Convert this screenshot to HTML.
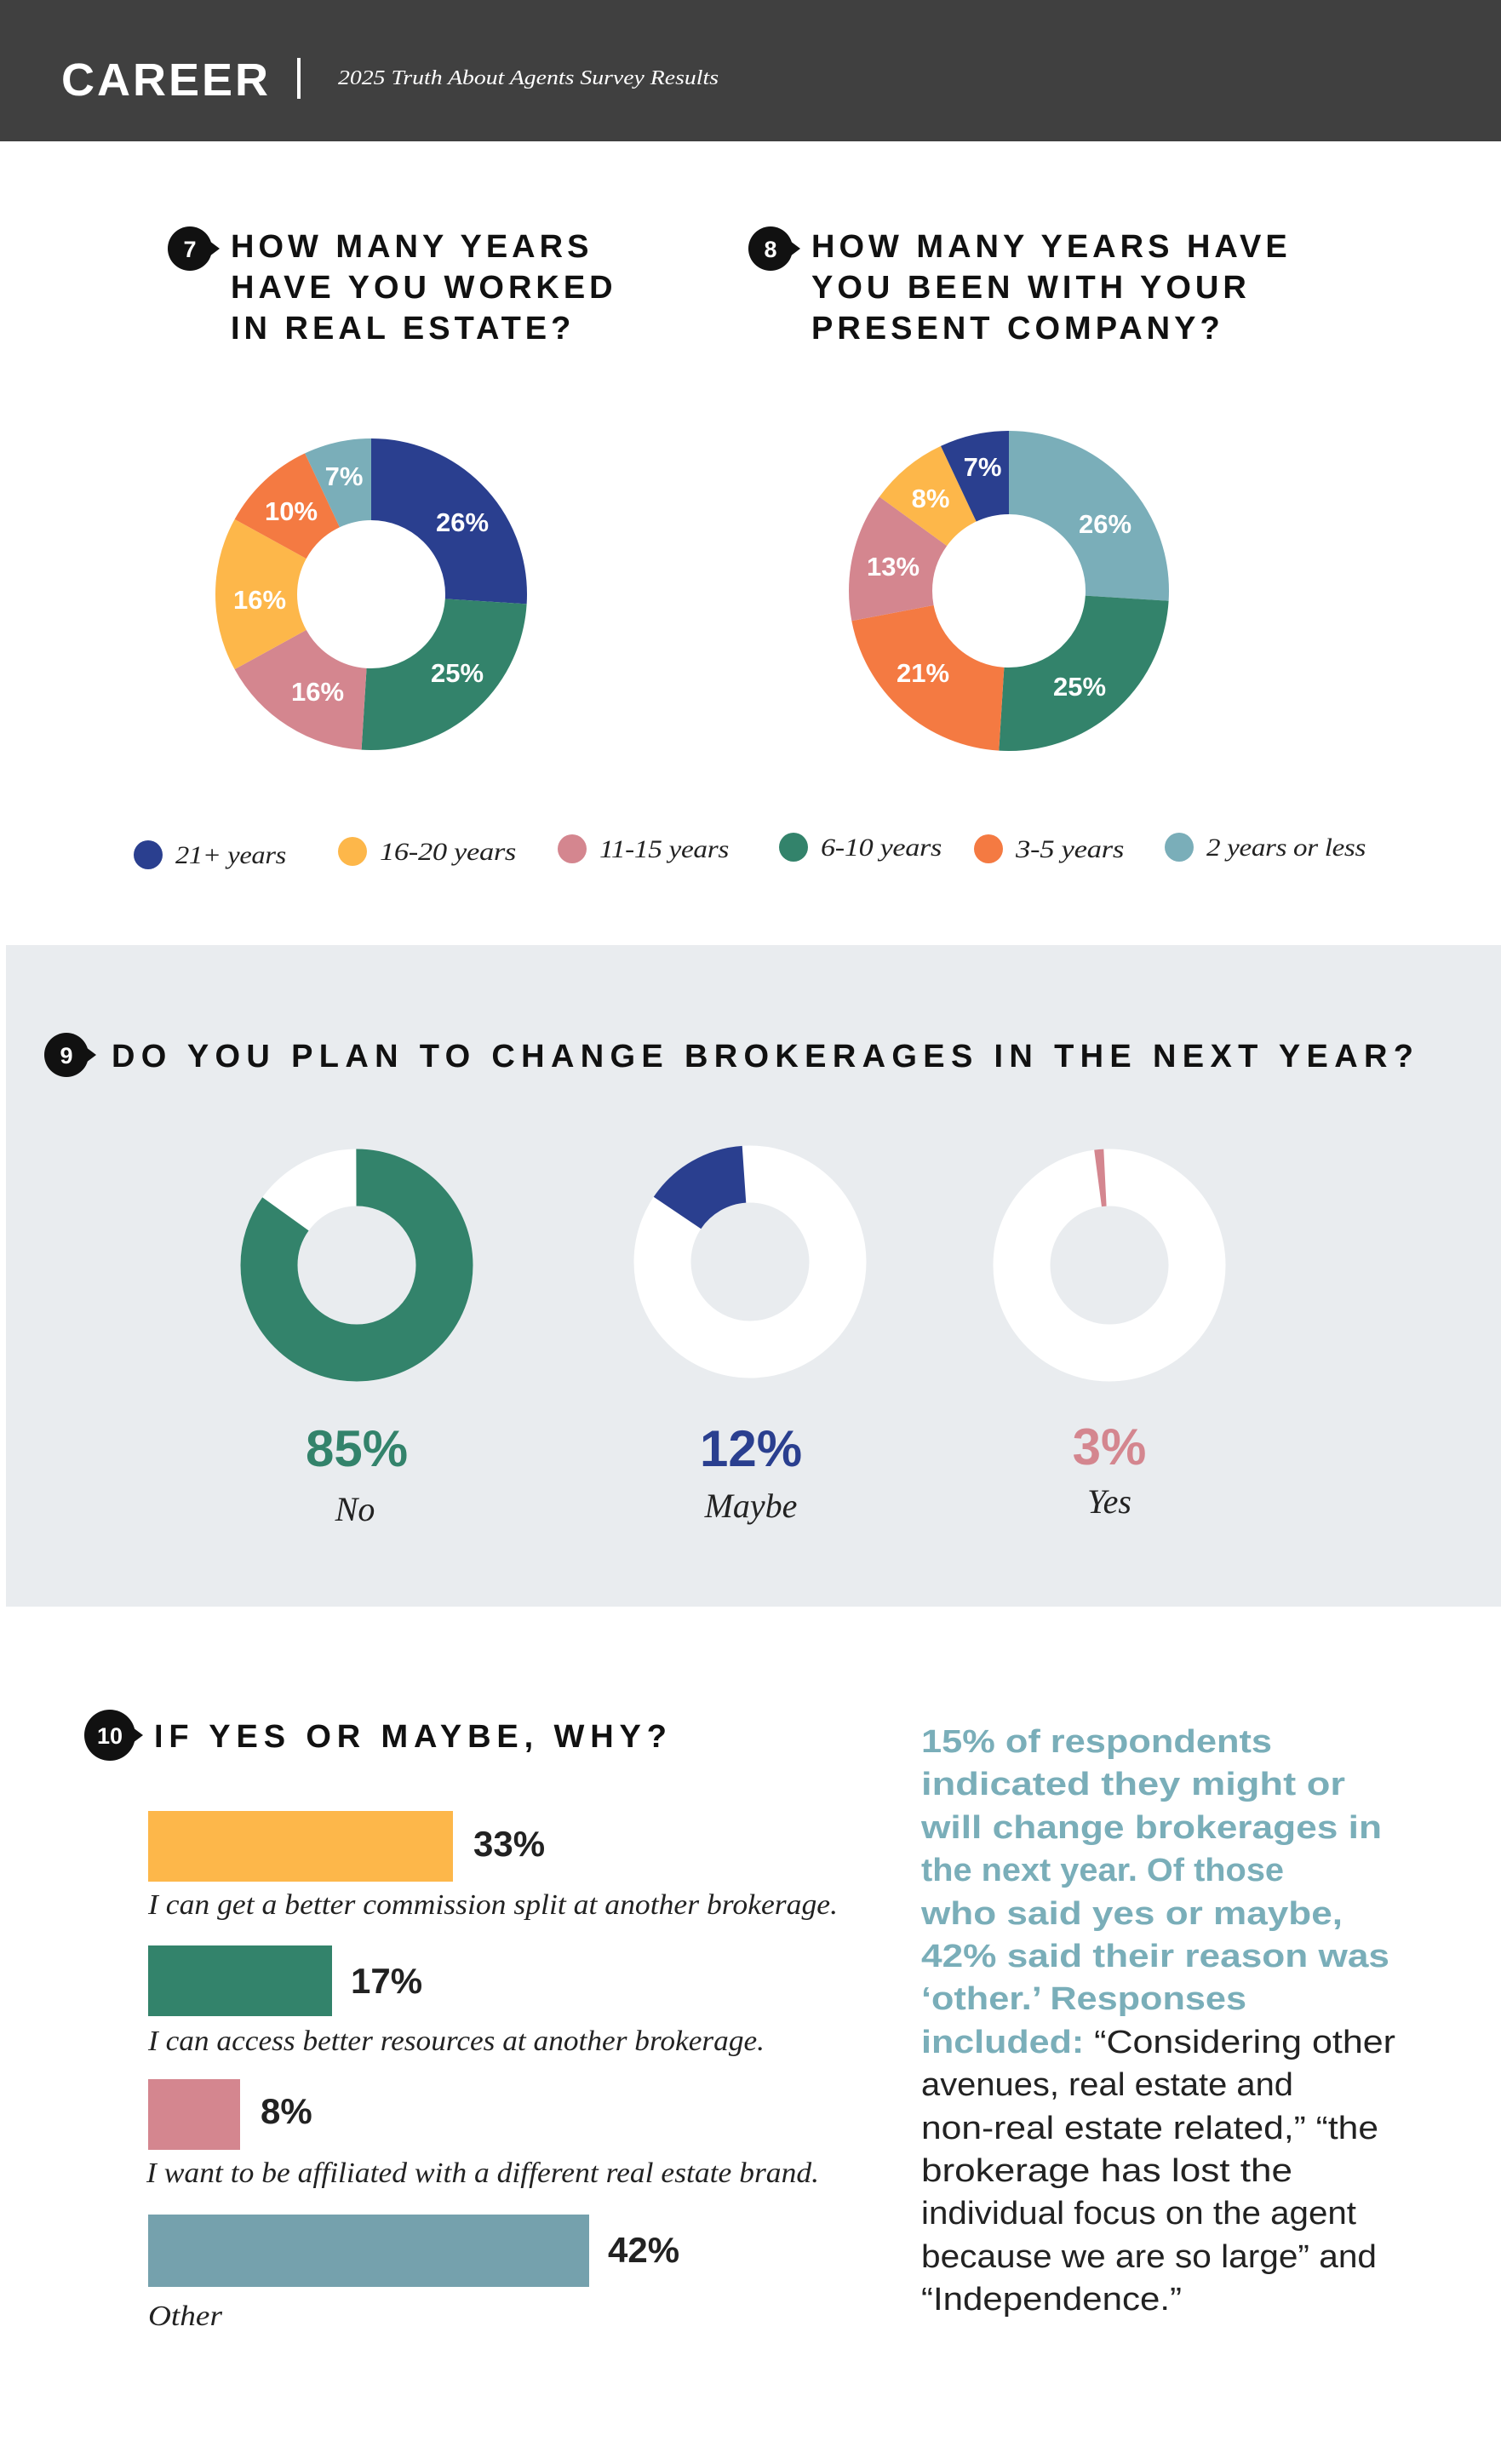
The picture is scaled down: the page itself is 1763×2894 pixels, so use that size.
<!DOCTYPE html>
<html><head><meta charset="utf-8"><style>
html,body{margin:0;padding:0;background:#fff}
svg{display:block}
.t{font-family:"Liberation Sans",sans-serif;font-weight:bold;fill:#111;font-size:38px;letter-spacing:5px}
.w{font-family:"Liberation Sans",sans-serif;font-weight:bold;fill:#fff;font-size:31px}
.lg{font-family:"Liberation Serif",serif;font-style:italic;font-size:30px;fill:#222;letter-spacing:-0.3px}
.cap{font-family:"Liberation Serif",serif;font-style:italic;font-size:34px;fill:#222}
.pc{font-family:"Liberation Sans",sans-serif;font-weight:bold;font-size:42px;fill:#222}
.big{font-family:"Liberation Sans",sans-serif;font-weight:bold;font-size:60px}
.lab{font-family:"Liberation Serif",serif;font-style:italic;font-size:40px;fill:#222}
.rt{font-family:"Liberation Sans",sans-serif;font-size:38px}
</style></head><body>
<svg width="1763" height="2894" viewBox="0 0 1763 2894" xmlns="http://www.w3.org/2000/svg">
<rect x="0" y="0" width="1763" height="166" fill="#404040"/>
<text x="72" y="112" font-family="Liberation Sans,sans-serif" font-weight="bold" font-size="54" fill="#fff" letter-spacing="3">CAREER</text>
<rect x="349" y="68" width="4" height="48" fill="#fff"/>
<text x="397" y="99" font-family="Liberation Serif,serif" font-style="italic" font-size="24" fill="#fff" textLength="447" lengthAdjust="spacingAndGlyphs">2025 Truth About Agents Survey Results</text>

<g fill="#111">
<circle cx="223" cy="292" r="26"/><polygon points="246,283 258,292 246,301"/>
<circle cx="905" cy="292" r="26"/><polygon points="928,283 940,292 928,301"/>
<circle cx="129" cy="2038" r="30"/><polygon points="156,2029 168,2038 156,2047"/>
</g>
<g font-family="Liberation Sans,sans-serif" font-weight="bold" fill="#fff" text-anchor="middle">
<text x="223" y="302" font-size="27">7</text>
<text x="905" y="302" font-size="27">8</text>
<text x="129" y="2048" font-size="27">10</text>
</g>

<text class="t" x="271" y="302" letter-spacing="6">HOW MANY YEARS</text>
<text class="t" x="271" y="350" letter-spacing="6">HAVE YOU WORKED</text>
<text class="t" x="271" y="398" letter-spacing="6">IN REAL ESTATE?</text>
<text class="t" x="953" y="302" letter-spacing="6.5">HOW MANY YEARS HAVE</text>
<text class="t" x="953" y="350" letter-spacing="6.5">YOU BEEN WITH YOUR</text>
<text class="t" x="953" y="398" letter-spacing="6.5">PRESENT COMPANY?</text>

<g transform="translate(436,698) rotate(-90)" fill="none" stroke-width="96">
<circle r="135" pathLength="100" stroke="#2a3f8f" stroke-dasharray="26 74" stroke-dashoffset="0"/>
<circle r="135" pathLength="100" stroke="#33836b" stroke-dasharray="25 75" stroke-dashoffset="-26"/>
<circle r="135" pathLength="100" stroke="#d4868f" stroke-dasharray="16 84" stroke-dashoffset="-51"/>
<circle r="135" pathLength="100" stroke="#fdb74a" stroke-dasharray="16 84" stroke-dashoffset="-67"/>
<circle r="135" pathLength="100" stroke="#f47a42" stroke-dasharray="10 90" stroke-dashoffset="-83"/>
<circle r="135" pathLength="100" stroke="#7aaeb9" stroke-dasharray="7 93" stroke-dashoffset="-93"/>
</g>
<g class="w" text-anchor="middle">
<text x="543" y="624">26%</text><text x="537" y="801">25%</text><text x="373" y="823">16%</text>
<text x="305" y="715">16%</text><text x="342" y="611">10%</text><text x="404" y="570">7%</text>
</g>
<g transform="translate(1185,694) rotate(-90)" fill="none" stroke-width="98">
<circle r="139" pathLength="100" stroke="#7aaeb9" stroke-dasharray="26 74" stroke-dashoffset="0"/>
<circle r="139" pathLength="100" stroke="#33836b" stroke-dasharray="25 75" stroke-dashoffset="-26"/>
<circle r="139" pathLength="100" stroke="#f47a42" stroke-dasharray="21 79" stroke-dashoffset="-51"/>
<circle r="139" pathLength="100" stroke="#d4868f" stroke-dasharray="13 87" stroke-dashoffset="-72"/>
<circle r="139" pathLength="100" stroke="#fdb74a" stroke-dasharray="8 92" stroke-dashoffset="-85"/>
<circle r="139" pathLength="100" stroke="#2a3f8f" stroke-dasharray="7 93" stroke-dashoffset="-93"/>
</g>
<g class="w" text-anchor="middle">
<text x="1298" y="626">26%</text><text x="1268" y="817">25%</text><text x="1084" y="801">21%</text>
<text x="1049" y="676">13%</text><text x="1093" y="596">8%</text><text x="1154" y="559">7%</text>
</g>

<circle cx="174" cy="1004" r="17" fill="#2a3f8f"/><text class="lg" x="206" y="1014" textLength="130" lengthAdjust="spacingAndGlyphs">21+ years</text>
<circle cx="414" cy="1000" r="17" fill="#fdb74a"/><text class="lg" x="446" y="1010" textLength="160" lengthAdjust="spacingAndGlyphs">16-20 years</text>
<circle cx="672" cy="997" r="17" fill="#d4868f"/><text class="lg" x="704" y="1007" textLength="152" lengthAdjust="spacingAndGlyphs">11-15 years</text>
<circle cx="932" cy="995" r="17" fill="#33836b"/><text class="lg" x="964" y="1005" textLength="142" lengthAdjust="spacingAndGlyphs">6-10 years</text>
<circle cx="1161" cy="997" r="17" fill="#f47a42"/><text class="lg" x="1193" y="1007" textLength="127" lengthAdjust="spacingAndGlyphs">3-5 years</text>
<circle cx="1385" cy="995" r="17" fill="#7aaeb9"/><text class="lg" x="1417" y="1005" textLength="187" lengthAdjust="spacingAndGlyphs">2 years or less</text>

<rect x="7" y="1110" width="1756" height="777" fill="#e9ecef"/>
<circle cx="78" cy="1239" r="26" fill="#111"/><polygon points="101,1230 113,1239 101,1248" fill="#111"/>
<text x="78" y="1249" font-family="Liberation Sans,sans-serif" font-weight="bold" fill="#fff" font-size="27" text-anchor="middle">9</text>
<text class="t" x="131" y="1253" textLength="1534" lengthAdjust="spacing">DO YOU PLAN TO CHANGE BROKERAGES IN THE NEXT YEAR?</text>

<g transform="translate(419,1486) rotate(-90)" fill="none" stroke-width="67">
<circle r="103" stroke="#fff"/>
<circle r="103" pathLength="100" stroke="#33836b" stroke-dasharray="85 15"/>
</g>
<g transform="translate(881,1482) rotate(-90)" fill="none" stroke-width="67">
<circle r="103" stroke="#fff"/>
<circle r="103" pathLength="100" stroke="#2a3f8f" stroke-dasharray="14.5 85.5" stroke-dashoffset="15.5"/>
</g>
<g transform="translate(1303,1486) rotate(-90)" fill="none" stroke-width="67">
<circle r="103" stroke="#fff"/>
<circle r="103" pathLength="100" stroke="#d4868f" stroke-dasharray="1.3 98.7" stroke-dashoffset="2"/>
</g>
<g text-anchor="middle">
<text class="big" x="419" y="1722" fill="#33836b">85%</text>
<text class="lab" x="417" y="1786">No</text>
<text class="big" x="882" y="1722" fill="#2a3f8f">12%</text>
<text class="lab" x="882" y="1782">Maybe</text>
<text class="big" x="1303" y="1720" fill="#d4868f">3%</text>
<text class="lab" x="1303" y="1777">Yes</text>
</g>

<text class="t" x="181" y="2052" textLength="607" lengthAdjust="spacing">IF YES OR MAYBE, WHY?</text>
<rect x="174" y="2127" width="358" height="83" fill="#fdb74a"/>
<text class="pc" x="556" y="2180">33%</text>
<text class="cap" x="174" y="2248" textLength="810" lengthAdjust="spacingAndGlyphs">I can get a better commission split at another brokerage.</text>
<rect x="174" y="2285" width="216" height="83" fill="#33836b"/>
<text class="pc" x="412" y="2341">17%</text>
<text class="cap" x="174" y="2408" textLength="724" lengthAdjust="spacingAndGlyphs">I can access better resources at another brokerage.</text>
<rect x="174" y="2442" width="108" height="83" fill="#d4868f"/>
<text class="pc" x="306" y="2494">8%</text>
<text class="cap" x="172" y="2563" textLength="790" lengthAdjust="spacingAndGlyphs">I want to be affiliated with a different real estate brand.</text>
<rect x="174" y="2601" width="518" height="85" fill="#75a1ad"/>
<text class="pc" x="714" y="2657">42%</text>
<text class="cap" x="174" y="2731" textLength="87" lengthAdjust="spacingAndGlyphs">Other</text>

<g class="rt">
<text x="1082" y="2058" fill="#7aaeb9" font-weight="bold" textLength="412" lengthAdjust="spacingAndGlyphs">15% of respondents</text>
<text x="1082" y="2108" fill="#7aaeb9" font-weight="bold" textLength="498" lengthAdjust="spacingAndGlyphs">indicated they might or</text>
<text x="1082" y="2159" fill="#7aaeb9" font-weight="bold" textLength="541" lengthAdjust="spacingAndGlyphs">will change brokerages in</text>
<text x="1082" y="2209" fill="#7aaeb9" font-weight="bold" textLength="426" lengthAdjust="spacingAndGlyphs">the next year. Of those</text>
<text x="1082" y="2260" fill="#7aaeb9" font-weight="bold" textLength="495" lengthAdjust="spacingAndGlyphs">who said yes or maybe,</text>
<text x="1082" y="2310" fill="#7aaeb9" font-weight="bold" textLength="550" lengthAdjust="spacingAndGlyphs">42% said their reason was</text>
<text x="1082" y="2360" fill="#7aaeb9" font-weight="bold" textLength="382" lengthAdjust="spacingAndGlyphs">‘other.’ Responses</text>
<text x="1082" y="2411" fill="#222" textLength="557" lengthAdjust="spacingAndGlyphs"><tspan fill="#7aaeb9" font-weight="bold">included:</tspan> “Considering other</text>
<text x="1082" y="2461" fill="#222" textLength="437" lengthAdjust="spacingAndGlyphs">avenues, real estate and</text>
<text x="1082" y="2512" fill="#222" textLength="537" lengthAdjust="spacingAndGlyphs">non-real estate related,” “the</text>
<text x="1082" y="2562" fill="#222" textLength="436" lengthAdjust="spacingAndGlyphs">brokerage has lost the</text>
<text x="1082" y="2612" fill="#222" textLength="511" lengthAdjust="spacingAndGlyphs">individual focus on the agent</text>
<text x="1082" y="2663" fill="#222" textLength="535" lengthAdjust="spacingAndGlyphs">because we are so large” and</text>
<text x="1082" y="2713" fill="#222" textLength="306" lengthAdjust="spacingAndGlyphs">“Independence.”</text>
</g>
</svg>
</body></html>
